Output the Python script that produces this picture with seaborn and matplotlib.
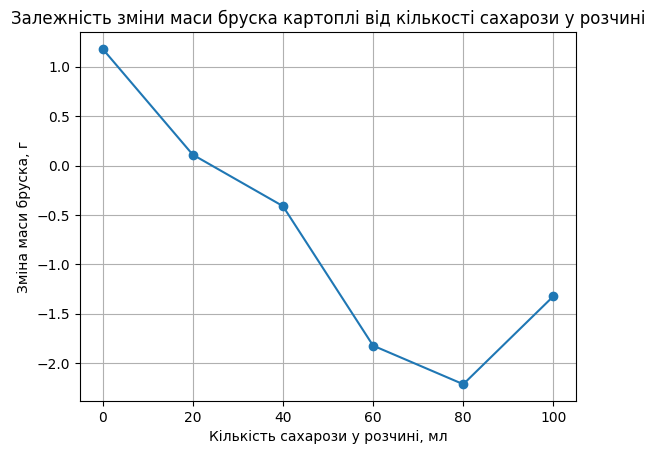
import matplotlib
matplotlib.use("Agg")
import matplotlib.pyplot as plt
import seaborn as sns
import pandas as pd

sucrose_ml = [0, 20, 40, 60, 80, 100]
mass_change_g = [1.18, 0.11, -0.41, -1.82, -2.21, -1.32]

df = pd.DataFrame({"sucrose": sucrose_ml, "mass": mass_change_g})

fig, ax = plt.subplots(figsize=(6.54, 4.55), dpi=100)
fig.subplots_adjust(left=80 / 654, right=576 / 654, top=1 - 32 / 455, bottom=1 - 401 / 455)

sns.lineplot(data=df, x="sucrose", y="mass", marker="o", color="#1f77b4",
             markersize=6, markeredgecolor="#1f77b4", markeredgewidth=1,
             linewidth=1.5, ax=ax)

ax.set_xticks(sucrose_ml)
ax.grid(True)
ax.set_title("Залежність зміни маси бруска картоплі від кількості сахарози у розчині")
ax.set_xlabel("Кількість сахарози у розчині, мл")
ax.set_ylabel("Зміна маси бруска, г")

fig.savefig("out.png", dpi=100)
